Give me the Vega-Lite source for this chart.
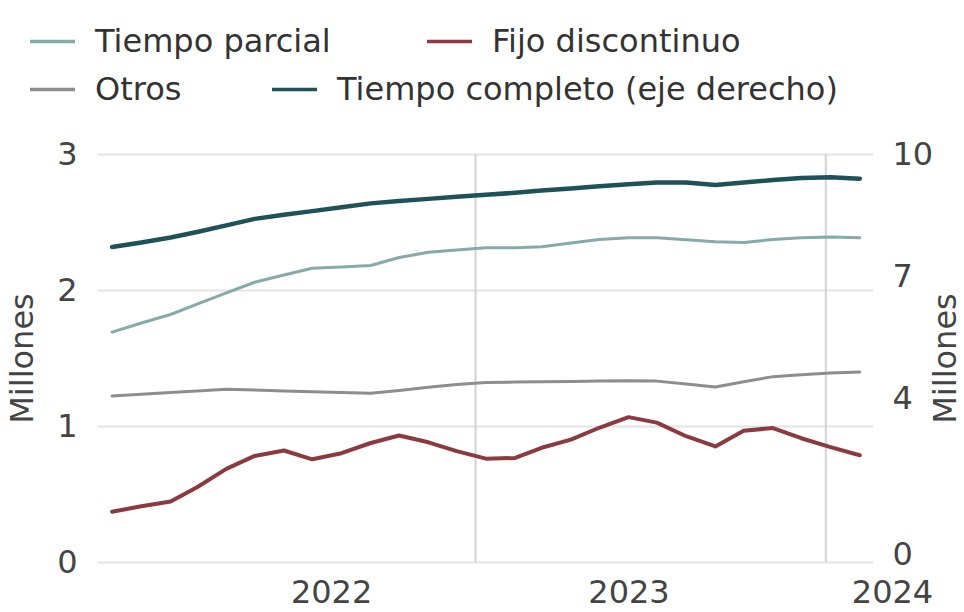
{
  "$schema": "https://vega.github.io/schema/vega-lite/v6.json",
  "width": 776,
  "height": 408,
  "autosize": {"type": "none"},
  "padding": {"left": 97, "top": 154, "right": 91, "bottom": 50},
  "background": "white",
  "config": {
    "view": {"stroke": null},
    "font": "DejaVu Sans",
    "legend": {
      "orient": "none",
      "direction": "horizontal",
      "symbolType": "stroke",
      "symbolSize": 2025,
      "symbolStrokeWidth": 3.5,
      "labelFontSize": 32,
      "labelColor": "#333333",
      "labelOffset": 18,
      "labelLimit": 700,
      "title": null,
      "padding": 0
    }
  },
  "datasets": {
    "reglas": [{"fecha": "2022-12-21"}, {"fecha": "2023-12-27"}],
    "series": [
      {"fecha": "2021-12-01", "serie": "Tiempo parcial", "valor": 1.69},
      {"fecha": "2022-01-01", "serie": "Tiempo parcial", "valor": 1.757},
      {"fecha": "2022-02-01", "serie": "Tiempo parcial", "valor": 1.82},
      {"fecha": "2022-03-01", "serie": "Tiempo parcial", "valor": 1.896},
      {"fecha": "2022-04-01", "serie": "Tiempo parcial", "valor": 1.979},
      {"fecha": "2022-05-01", "serie": "Tiempo parcial", "valor": 2.057},
      {"fecha": "2022-06-01", "serie": "Tiempo parcial", "valor": 2.11},
      {"fecha": "2022-07-01", "serie": "Tiempo parcial", "valor": 2.16},
      {"fecha": "2022-08-01", "serie": "Tiempo parcial", "valor": 2.17},
      {"fecha": "2022-09-01", "serie": "Tiempo parcial", "valor": 2.18},
      {"fecha": "2022-10-01", "serie": "Tiempo parcial", "valor": 2.239},
      {"fecha": "2022-11-01", "serie": "Tiempo parcial", "valor": 2.277},
      {"fecha": "2022-12-01", "serie": "Tiempo parcial", "valor": 2.294},
      {"fecha": "2023-01-01", "serie": "Tiempo parcial", "valor": 2.31},
      {"fecha": "2023-02-01", "serie": "Tiempo parcial", "valor": 2.31},
      {"fecha": "2023-03-01", "serie": "Tiempo parcial", "valor": 2.318},
      {"fecha": "2023-04-01", "serie": "Tiempo parcial", "valor": 2.345},
      {"fecha": "2023-05-01", "serie": "Tiempo parcial", "valor": 2.372},
      {"fecha": "2023-06-01", "serie": "Tiempo parcial", "valor": 2.385},
      {"fecha": "2023-07-01", "serie": "Tiempo parcial", "valor": 2.385},
      {"fecha": "2023-08-01", "serie": "Tiempo parcial", "valor": 2.37},
      {"fecha": "2023-09-01", "serie": "Tiempo parcial", "valor": 2.355},
      {"fecha": "2023-10-01", "serie": "Tiempo parcial", "valor": 2.35},
      {"fecha": "2023-11-01", "serie": "Tiempo parcial", "valor": 2.371},
      {"fecha": "2023-12-01", "serie": "Tiempo parcial", "valor": 2.385},
      {"fecha": "2024-01-01", "serie": "Tiempo parcial", "valor": 2.39},
      {"fecha": "2024-02-01", "serie": "Tiempo parcial", "valor": 2.385},
      {"fecha": "2021-12-01", "serie": "Fijo discontinuo", "valor": 0.37},
      {"fecha": "2022-01-01", "serie": "Fijo discontinuo", "valor": 0.41},
      {"fecha": "2022-02-01", "serie": "Fijo discontinuo", "valor": 0.445},
      {"fecha": "2022-03-01", "serie": "Fijo discontinuo", "valor": 0.55},
      {"fecha": "2022-04-01", "serie": "Fijo discontinuo", "valor": 0.685},
      {"fecha": "2022-05-01", "serie": "Fijo discontinuo", "valor": 0.78},
      {"fecha": "2022-06-01", "serie": "Fijo discontinuo", "valor": 0.82},
      {"fecha": "2022-07-01", "serie": "Fijo discontinuo", "valor": 0.755},
      {"fecha": "2022-08-01", "serie": "Fijo discontinuo", "valor": 0.8},
      {"fecha": "2022-09-01", "serie": "Fijo discontinuo", "valor": 0.875},
      {"fecha": "2022-10-01", "serie": "Fijo discontinuo", "valor": 0.93},
      {"fecha": "2022-11-01", "serie": "Fijo discontinuo", "valor": 0.88},
      {"fecha": "2022-12-01", "serie": "Fijo discontinuo", "valor": 0.815},
      {"fecha": "2023-01-01", "serie": "Fijo discontinuo", "valor": 0.76},
      {"fecha": "2023-02-01", "serie": "Fijo discontinuo", "valor": 0.765},
      {"fecha": "2023-03-01", "serie": "Fijo discontinuo", "valor": 0.84},
      {"fecha": "2023-04-01", "serie": "Fijo discontinuo", "valor": 0.9},
      {"fecha": "2023-05-01", "serie": "Fijo discontinuo", "valor": 0.987},
      {"fecha": "2023-06-01", "serie": "Fijo discontinuo", "valor": 1.065},
      {"fecha": "2023-07-01", "serie": "Fijo discontinuo", "valor": 1.025},
      {"fecha": "2023-08-01", "serie": "Fijo discontinuo", "valor": 0.925},
      {"fecha": "2023-09-01", "serie": "Fijo discontinuo", "valor": 0.85},
      {"fecha": "2023-10-01", "serie": "Fijo discontinuo", "valor": 0.965},
      {"fecha": "2023-11-01", "serie": "Fijo discontinuo", "valor": 0.985},
      {"fecha": "2023-12-01", "serie": "Fijo discontinuo", "valor": 0.91},
      {"fecha": "2024-01-01", "serie": "Fijo discontinuo", "valor": 0.845},
      {"fecha": "2024-02-01", "serie": "Fijo discontinuo", "valor": 0.785},
      {"fecha": "2021-12-01", "serie": "Otros", "valor": 1.22},
      {"fecha": "2022-01-01", "serie": "Otros", "valor": 1.233},
      {"fecha": "2022-02-01", "serie": "Otros", "valor": 1.246},
      {"fecha": "2022-03-01", "serie": "Otros", "valor": 1.258},
      {"fecha": "2022-04-01", "serie": "Otros", "valor": 1.27},
      {"fecha": "2022-05-01", "serie": "Otros", "valor": 1.264},
      {"fecha": "2022-06-01", "serie": "Otros", "valor": 1.257},
      {"fecha": "2022-07-01", "serie": "Otros", "valor": 1.252},
      {"fecha": "2022-08-01", "serie": "Otros", "valor": 1.247},
      {"fecha": "2022-09-01", "serie": "Otros", "valor": 1.241},
      {"fecha": "2022-10-01", "serie": "Otros", "valor": 1.261},
      {"fecha": "2022-11-01", "serie": "Otros", "valor": 1.285},
      {"fecha": "2022-12-01", "serie": "Otros", "valor": 1.306},
      {"fecha": "2023-01-01", "serie": "Otros", "valor": 1.32},
      {"fecha": "2023-02-01", "serie": "Otros", "valor": 1.323},
      {"fecha": "2023-03-01", "serie": "Otros", "valor": 1.325},
      {"fecha": "2023-04-01", "serie": "Otros", "valor": 1.328},
      {"fecha": "2023-05-01", "serie": "Otros", "valor": 1.33},
      {"fecha": "2023-06-01", "serie": "Otros", "valor": 1.333},
      {"fecha": "2023-07-01", "serie": "Otros", "valor": 1.33},
      {"fecha": "2023-08-01", "serie": "Otros", "valor": 1.308},
      {"fecha": "2023-09-01", "serie": "Otros", "valor": 1.287},
      {"fecha": "2023-10-01", "serie": "Otros", "valor": 1.325},
      {"fecha": "2023-11-01", "serie": "Otros", "valor": 1.363},
      {"fecha": "2023-12-01", "serie": "Otros", "valor": 1.377},
      {"fecha": "2024-01-01", "serie": "Otros", "valor": 1.389},
      {"fecha": "2024-02-01", "serie": "Otros", "valor": 1.397},
      {"fecha": "2021-12-01", "serie": "Tiempo completo (eje derecho)", "valor": 7.72},
      {"fecha": "2022-01-01", "serie": "Tiempo completo (eje derecho)", "valor": 7.83},
      {"fecha": "2022-02-01", "serie": "Tiempo completo (eje derecho)", "valor": 7.955},
      {"fecha": "2022-03-01", "serie": "Tiempo completo (eje derecho)", "valor": 8.09},
      {"fecha": "2022-04-01", "serie": "Tiempo completo (eje derecho)", "valor": 8.25},
      {"fecha": "2022-05-01", "serie": "Tiempo completo (eje derecho)", "valor": 8.41},
      {"fecha": "2022-06-01", "serie": "Tiempo completo (eje derecho)", "valor": 8.51},
      {"fecha": "2022-07-01", "serie": "Tiempo completo (eje derecho)", "valor": 8.6},
      {"fecha": "2022-08-01", "serie": "Tiempo completo (eje derecho)", "valor": 8.695},
      {"fecha": "2022-09-01", "serie": "Tiempo completo (eje derecho)", "valor": 8.79},
      {"fecha": "2022-10-01", "serie": "Tiempo completo (eje derecho)", "valor": 8.85},
      {"fecha": "2022-11-01", "serie": "Tiempo completo (eje derecho)", "valor": 8.9},
      {"fecha": "2022-12-01", "serie": "Tiempo completo (eje derecho)", "valor": 8.95},
      {"fecha": "2023-01-01", "serie": "Tiempo completo (eje derecho)", "valor": 9.0},
      {"fecha": "2023-02-01", "serie": "Tiempo completo (eje derecho)", "valor": 9.05},
      {"fecha": "2023-03-01", "serie": "Tiempo completo (eje derecho)", "valor": 9.105},
      {"fecha": "2023-04-01", "serie": "Tiempo completo (eje derecho)", "valor": 9.155},
      {"fecha": "2023-05-01", "serie": "Tiempo completo (eje derecho)", "valor": 9.21},
      {"fecha": "2023-06-01", "serie": "Tiempo completo (eje derecho)", "valor": 9.26},
      {"fecha": "2023-07-01", "serie": "Tiempo completo (eje derecho)", "valor": 9.3},
      {"fecha": "2023-08-01", "serie": "Tiempo completo (eje derecho)", "valor": 9.3},
      {"fecha": "2023-09-01", "serie": "Tiempo completo (eje derecho)", "valor": 9.24},
      {"fecha": "2023-10-01", "serie": "Tiempo completo (eje derecho)", "valor": 9.3},
      {"fecha": "2023-11-01", "serie": "Tiempo completo (eje derecho)", "valor": 9.36},
      {"fecha": "2023-12-01", "serie": "Tiempo completo (eje derecho)", "valor": 9.41},
      {"fecha": "2024-01-01", "serie": "Tiempo completo (eje derecho)", "valor": 9.43},
      {"fecha": "2024-02-01", "serie": "Tiempo completo (eje derecho)", "valor": 9.395}
    ]
  },
  "layer": [
    {
      "data": {"name": "reglas"},
      "mark": {"type": "rule", "color": "#d3d3d3", "strokeWidth": 2},
      "encoding": {
        "x": {
          "field": "fecha",
          "type": "temporal",
          "scale": {"domain": [{"year": 2021, "month": 11, "date": 15}, {"year": 2024, "month": 2, "date": 15}]},
          "axis": {
            "values": [{"year": 2022, "month": 7, "date": 21}, {"year": 2023, "month": 6, "date": 1}, {"year": 2024, "month": 2, "date": 15}],
            "format": "%Y",
            "labelFontSize": 32,
            "labelColor": "#444444",
            "labelPadding": 15,
            "labelOffset": {"condition": {"test": "year(datum.value) === 2024", "value": 19}, "value": 0},
            "labelOverlap": false,
            "labelFlush": false,
            "domain": false,
            "ticks": false,
            "grid": false,
            "title": null
          }
        }
      }
    },
    {
      "layer": [
        {
          "data": {"name": "series"},
          "transform": [{"filter": "datum.serie === 'Tiempo parcial'"}],
          "mark": {"type": "line", "strokeWidth": 3, "strokeCap": "round", "strokeJoin": "round"},
          "encoding": {
            "x": {"field": "fecha", "type": "temporal"},
            "y": {
              "field": "valor",
              "type": "quantitative",
              "scale": {"domain": [0, 3]},
              "axis": {
                "orient": "left",
                "values": [0, 1, 2, 3],
                "format": "d",
                "grid": true,
                "gridColor": "#e4e4e4",
                "gridWidth": 2,
                "domain": false,
                "ticks": false,
                "labelFontSize": 32,
                "labelColor": "#444444",
                "labelPadding": 20,
                "title": "Millones",
                "titleFontSize": 32,
                "titleFontWeight": "normal",
                "titleColor": "#444444",
                "titlePadding": 17
              }
            },
            "color": {
              "field": "serie",
              "type": "nominal",
              "scale": {"domain": ["Tiempo parcial"], "range": ["#86aaa9"]},
              "legend": {"legendX": -69, "legendY": -137}
            }
          }
        },
        {
          "data": {"name": "series"},
          "transform": [{"filter": "datum.serie === 'Otros'"}],
          "mark": {"type": "line", "strokeWidth": 3, "strokeCap": "round", "strokeJoin": "round"},
          "encoding": {
            "x": {"field": "fecha", "type": "temporal"},
            "y": {"field": "valor", "type": "quantitative", "scale": {"domain": [0, 3]}},
            "color": {
              "field": "serie",
              "type": "nominal",
              "scale": {"domain": ["Otros"], "range": ["#8d8d8d"]},
              "legend": {"legendX": -69, "legendY": -89}
            }
          }
        },
        {
          "data": {"name": "series"},
          "transform": [{"filter": "datum.serie === 'Fijo discontinuo'"}],
          "mark": {"type": "line", "strokeWidth": 4, "strokeCap": "round", "strokeJoin": "round"},
          "encoding": {
            "x": {"field": "fecha", "type": "temporal"},
            "y": {"field": "valor", "type": "quantitative", "scale": {"domain": [0, 3]}},
            "color": {
              "field": "serie",
              "type": "nominal",
              "scale": {"domain": ["Fijo discontinuo"], "range": ["#8b3a40"]},
              "legend": {"legendX": 328, "legendY": -137}
            }
          }
        }
      ],
      "resolve": {"scale": {"color": "independent"}, "legend": {"color": "independent"}}
    },
    {
      "data": {"name": "series"},
      "transform": [{"filter": "datum.serie === 'Tiempo completo (eje derecho)'"}],
      "mark": {"type": "line", "strokeWidth": 4.5, "strokeCap": "round", "strokeJoin": "round"},
      "encoding": {
        "x": {"field": "fecha", "type": "temporal"},
        "y": {
          "field": "valor",
          "type": "quantitative",
          "scale": {"domain": [0, 10]},
          "axis": {
            "orient": "right",
            "values": [0, 4, 7, 10],
            "format": "d",
            "grid": false,
            "domain": false,
            "ticks": false,
            "labelFontSize": 32,
            "labelColor": "#444444",
            "labelPadding": 19,
            "labelOffset": {"condition": {"test": "datum.value === 0", "value": -8}, "value": 0},
            "title": "Millones",
            "titleAngle": 270,
            "titleFontSize": 32,
            "titleFontWeight": "normal",
            "titleColor": "#444444",
            "titlePadding": 30
          }
        },
        "color": {
          "field": "serie",
          "type": "nominal",
          "scale": {"domain": ["Tiempo completo (eje derecho)"], "range": ["#1e5258"]},
          "legend": {"legendX": 173, "legendY": -89}
        }
      }
    }
  ],
  "resolve": {"scale": {"y": "independent", "color": "independent"}, "legend": {"color": "independent"}}
}
